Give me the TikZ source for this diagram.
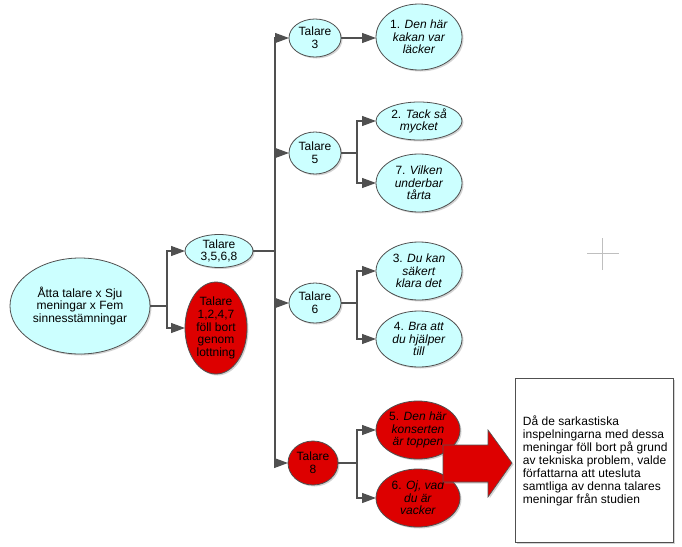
\documentclass[tikz,border=0pt]{standalone}
\usepackage{fontspec}
\setmainfont{Liberation Sans}
\usetikzlibrary{shapes.geometric,arrows.meta,shadows}
\definecolor{cy}{HTML}{CCFFFF}
\definecolor{rd}{HTML}{DD0000}
\definecolor{ln}{HTML}{505050}
\begin{document}
\begin{tikzpicture}[x=1pt,y=-1pt,
  sh/.style={drop shadow={shadow xshift=1.5pt,shadow yshift=-1.5pt,opacity=0.35}},
  ell/.style={ellipse,draw=ln,line width=0.8pt,inner sep=0pt,outer sep=0pt,align=center,sh,
     font=\fontsize{12}{12.6}\selectfont},
  cyn/.style={ell,fill=cy},
  red/.style={ell,fill=rd},
  arr/.style={draw=ln,line width=1.2pt,-{Triangle[length=14pt,width=10pt]}},
  ln/.style={draw=ln,line width=1.2pt}]
\useasboundingbox (0,0) rectangle (682,546);
% nodes
\node[cyn,minimum width=140,minimum height=96] (root) at (80,306) {Åtta talare x Sju\\meningar x Fem\\sinnesstämningar};
\node[cyn,minimum width=68,minimum height=33] (t3568) at (219,251) {Talare\\3,5,6,8};
\node[red,minimum width=62,minimum height=92] (t1247) at (216,328) {Talare\\1,2,4,7\\föll bort\\genom\\lottning};
\node[cyn,minimum width=52,minimum height=38] (t3) at (315,38) {Talare\\3};
\node[cyn,minimum width=52,minimum height=42] (t5) at (315,153) {Talare\\5};
\node[cyn,minimum width=52,minimum height=40] (t6) at (315,303) {Talare\\6};
\node[red,minimum width=50,minimum height=44] (t8) at (313,463) {Talare\\8};
\node[cyn,minimum width=86,minimum height=66] (l1) at (419,37) {1. \textit{Den här}\\\textit{kakan var}\\\textit{läcker}};
\node[cyn,minimum width=86,minimum height=38] (l2) at (419,121) {2. \textit{Tack så}\\\textit{mycket}};
\node[cyn,minimum width=86,minimum height=58] (l7) at (419,183) {7. \textit{Vilken}\\\textit{underbar}\\\textit{tårta}};
\node[cyn,minimum width=86,minimum height=58] (l3) at (419,271) {3. \textit{Du kan}\\\textit{säkert}\\\textit{klara det}};
\node[cyn,minimum width=86,minimum height=56] (l4) at (419,339) {4. \textit{Bra att}\\\textit{du hjälper}\\\textit{till}};
\node[red,minimum width=84,minimum height=58] (l5) at (418,430) {5. \textit{Den här}\\\textit{konserten}\\\textit{är toppen}};
\node[red,minimum width=84,minimum height=58] (l6) at (418,498) {6. \textit{Oj, vad}\\\textit{du är}\\\textit{vacker}};
% text box
\node[draw=ln,line width=0.8pt,fill=white,sh,minimum width=158,minimum height=164,inner sep=0pt] (box) at (594,460) {};
\node[anchor=west,align=left,inner sep=0pt,
  font=\fontsize{12}{12.9}\selectfont\addfontfeatures{LetterSpace=0.5}] (boxtext) at ([xshift=8pt,yshift=-1pt]box.west)
  {Då de sarkastiska\\inspelningarna med dessa\\meningar föll bort på grund\\av tekniska problem, valde\\författarna att utesluta\\samtliga av denna talares\\meningar från studien};
% connectors
\coordinate (b0) at (167,306);
\coordinate (b1) at (275,251);
\coordinate (b5) at (357,153);
\coordinate (b6) at (357,303);
\coordinate (b8) at (357,463);
\draw[ln] (root.east) -- (b0);
\draw[arr] (b0) |- (t3568.west);
\draw[arr] (b0) |- (t1247.west);
\draw[ln] (t3568.east) -- (b1);
\draw[arr] (b1) |- (t3.west);
\draw[arr] (b1) |- (t5.west);
\draw[arr] (b1) |- (t6.west);
\draw[arr] (b1) |- (t8.west);
\draw[arr] (t3.east) -- (l1.west|-t3.east);
\draw[ln] (t5.east) -- (b5);
\draw[arr] (b5) |- (l2.west);
\draw[arr] (b5) |- (l7.west);
\draw[ln] (t6.east) -- (b6);
\draw[arr] (b6) |- (l3.west);
\draw[arr] (b6) |- (l4.west);
\draw[ln] (t8.east) -- (b8);
\draw[arr] (b8) |- (l5.west);
\draw[arr] (b8) |- (l6.west);
% big arrow
\draw[draw=ln,line width=0.6pt,fill=rd,sh] (443,445) -- (488,445) -- (488,430) -- (512,463) -- (488,497) -- (488,482) -- (443,482) -- cycle;
% cross mark
\draw[draw=black!25,line width=0.8pt] (587,253) -- (619,253) (602,238) -- (602,270);
\end{tikzpicture}
\end{document}
